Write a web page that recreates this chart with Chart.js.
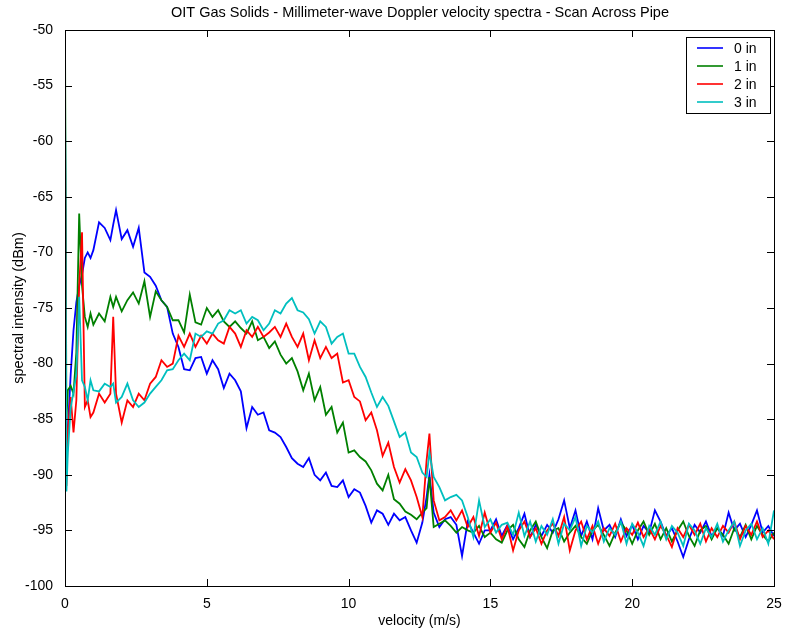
<!DOCTYPE html>
<html>
<head>
<meta charset="utf-8">
<script src="https://cdn.jsdelivr.net/npm/chart.js@4.4.1/dist/chart.umd.min.js"></script>
<style>
  body { margin: 0; background: #fff; }
  #wrap { width: 786px; height: 634px; }
</style>
</head>
<body>
<div id="wrap"><canvas id="c" width="786" height="634"></canvas></div>
<script>
const title = 'OIT Gas Solids - Millimeter-wave Doppler velocity spectra - Scan Across Pipe';
const xLabel = 'velocity (m/s)';
const yLabel = 'spectral intensity (dBm)';
const xTicks = [0, 5, 10, 15, 20, 25];
const yTicks = [-100, -95, -90, -85, -80, -75, -70, -65, -60, -55, -50];
const labels = ['0 in', '1 in', '2 in', '3 in'];
const colors = ['#0000ff', '#008000', '#ff0000', '#00bfbf'];

const velocity = [
  0, 0.05, 0.1, 0.2, 0.3, 0.4, 0.5, 0.6, 0.7, 0.8, 0.9, 1.0,
  1.2, 1.4, 1.6, 1.7, 1.8,
  2.0, 2.2, 2.4, 2.6, 2.8, 3.0, 3.2, 3.4, 3.6, 3.8,
  4.0, 4.2, 4.4, 4.6, 4.8, 5.0, 5.2, 5.4, 5.6, 5.8,
  6.0, 6.2, 6.4, 6.6, 6.8, 7.0, 7.2, 7.4, 7.6, 7.8,
  8.0, 8.2, 8.4, 8.6, 8.8, 9.0, 9.2, 9.4, 9.6, 9.8,
  10.0, 10.2, 10.4, 10.6, 10.8, 11.0, 11.2, 11.4, 11.6, 11.8,
  12.0, 12.2, 12.4, 12.6, 12.75, 12.85,
  13.0, 13.2, 13.4, 13.6, 13.8, 14.0, 14.2, 14.4, 14.6, 14.8,
  15.0, 15.2, 15.4, 15.6, 15.8, 16.0, 16.2, 16.4, 16.6, 16.8,
  17.0, 17.2, 17.4, 17.6, 17.8, 18.0, 18.2, 18.4, 18.6, 18.8,
  19.0, 19.2, 19.4, 19.6, 19.8, 20.0, 20.2, 20.4, 20.6, 20.8,
  21.0, 21.2, 21.4, 21.6, 21.8, 22.0, 22.2, 22.4, 22.6, 22.8,
  23.0, 23.2, 23.4, 23.6, 23.8, 24.0, 24.2, 24.4, 24.6, 24.8,
  25.0
];

const in0 = [
  -56, -90, -86, -81, -77, -74.5, -73, -72, -70.5, -70, -70.5, -69.8,
  -67.3, -67.8, -68.9, -67.5, -66.2,
  -68.8, -68, -69.5, -67.8, -71.8, -72.2, -73, -74.3, -74.9, -77.3,
  -78.5, -80.5, -80.6, -79.5, -79.4, -80.9, -79.7, -80.5, -82.2, -80.9,
  -81.5, -82.5, -85.8, -83.9, -84.6, -84.4, -86, -86.2, -86.6, -87.5,
  -88.5, -89, -89.3, -88.5, -90, -90.5, -89.8, -91, -91.1, -90.5,
  -92, -91.3, -91.6, -92.8, -94.3, -93.2, -93.5, -94.5, -93.5, -94.1,
  -93.8, -95, -96.1, -94.3, -92, -90,
  -93.4, -94.7, -94, -93.8, -94.5, -97.3, -94.2, -95.2, -96.2, -95,
  -95, -94, -95.5, -94.5, -95.8, -94.8, -93.5, -95.6, -94.5, -95.5,
  -94.5, -95.2, -94, -92.3, -94.8, -93.2, -95.5, -94.2, -95.8, -93,
  -95, -94.5, -95.6, -94, -95.5, -94.5, -95.8, -94.6, -95.2, -93.2,
  -94.2, -95.5, -94.8, -96, -97.4, -95.8, -94.5, -95.2, -94.2, -95.5,
  -94.8, -95.5, -93.4, -95, -94.4, -95.6, -94.5, -93.2, -95.2, -94.6,
  -95.5
];

const in1 = [
  -50, -85, -82.4, -82, -82.7, -79, -66.5, -73, -75.8, -76.7, -75.5, -76.5,
  -75.5, -76.2, -74, -74.9, -74,
  -75.3, -74.3, -73.6, -74.6, -72.6, -75.8, -73.5, -74.3, -74.9, -76.1,
  -76.1, -77.2, -73.8, -76.3, -76.5, -75, -75.8, -75.2, -76.2, -76.7,
  -76.2, -76.8, -77.3, -76.2, -77.9, -77.6, -78.6, -78, -79.2, -80,
  -79.5, -80.7, -82.4, -80.9, -83.3, -82.1, -84.6, -83.9, -86.2, -85.3,
  -88, -87.8, -88.4, -88.8, -89.6, -90.8, -91.4, -90, -92.2, -92.6,
  -93.3, -93.6, -94, -93.4, -93, -90.2,
  -94.7, -94.4, -94.1, -94.6, -95.2, -94.7, -95, -95.2, -94.6, -95.6,
  -95.2, -95.8, -96.1, -95, -94.5, -95.8, -96.5, -95, -94.2, -95.6,
  -96.6, -95, -94.8, -96, -95.2, -94.6, -95.6, -96.2, -95, -94.5,
  -95.4, -96.4, -95.2, -94.3, -95, -96.2, -95, -94.2, -95.4, -94.4,
  -95.8, -94.8, -96, -95, -94.2, -95.5, -96.4, -95, -94.6, -95.8,
  -94.8, -95.4, -96.2, -94.8, -95.6, -94.5, -95.8, -94.6, -95.4, -96,
  -95.2
];

const in2 = [
  -60, -91, -86, -83, -86.2, -83.3, -73, -68.2, -83.9, -83.3, -84.8, -84.4,
  -82.7, -83.5, -82.7, -75.8, -82.7,
  -85.3, -83.3, -83.9, -82.7, -83.3, -81.8, -81.2, -79.7, -80.3, -80,
  -77.5, -78.5, -77.3, -78.5, -77.5, -78.2, -77.3, -77.9, -78.2, -76.7,
  -77.3, -78.5, -77, -77.6, -76.7, -77.6, -77.2, -76.7, -77.6, -76.4,
  -77.6, -78.5, -77.3, -79.7, -77.9, -79.5, -78.5, -79.5, -79.1, -81.7,
  -81.5, -83, -83.4, -85.1, -84.4, -86, -88.3, -87.1, -89.3, -90.7,
  -89.5, -90.5, -92, -93.8, -88.7, -86.3,
  -92.3, -94.1, -93.8, -93.2, -94.1, -93.2, -94.7, -93.8, -95.5, -93.4,
  -95.2, -94.3, -95.8, -94.6, -96.8, -95, -94.2, -95.6, -94.8, -96.2,
  -95, -94.4, -95.5, -93.8, -96.8, -95, -94.2, -95.8, -94.6, -96.2,
  -94.8, -95.5, -94.4, -96, -94.8, -95.4, -94.3, -95.6, -94.8, -95.8,
  -94.6, -95.4, -96.5, -94.8, -95.6, -94.5, -95.4, -94.4, -96, -94.8,
  -95.6, -94.6, -95.2, -94.2, -95.8, -94.6, -95.4, -94.2, -95.6, -95,
  -95.8
];

const in3 = [
  -54, -91.5, -88, -84, -82.5, -81, -74, -81.5, -82.1, -83.3, -81.5, -82.4,
  -82.5, -81.8, -82.1, -81.8, -83.5,
  -83, -81.8, -83.3, -83.9, -83.5, -82.7, -82.1, -81.5, -80.6, -80.5,
  -79.7, -79.1, -79.7, -77.3, -77.6, -77.1, -77.3, -76.4, -76.1, -75.2,
  -75.5, -75.2, -76.4, -75.8, -76.1, -77, -76.4, -75.2, -75.5, -74.6,
  -74.1, -75.2, -75.4, -76, -77.3, -76.2, -76.7, -78.2, -77.6, -77.3,
  -79.1, -79.1, -80.3, -81.2, -82.6, -83.9, -83, -83.8, -85.2, -86.6,
  -86.2, -88, -88.4, -89.8, -90.2, -88,
  -90.2, -91.1, -92.3, -92, -91.8, -92.3, -93.8, -95.6, -92.3, -94.7,
  -94, -95.2, -94.5, -94.3, -95.4, -93.4, -95.5, -94.2, -96, -94.6,
  -95.4, -94, -96.2, -94.4, -95, -93.8, -96.4, -94.6, -95.2, -94.2,
  -96, -94.8, -95.4, -94.2, -96.2, -94.4, -95.2, -96.4, -94.6, -95.4,
  -94.2, -95.8, -94.6, -95.2, -96.4, -94.4, -95, -96.2, -94.8, -95.6,
  -94.4, -96, -95, -94.2, -96.4, -95, -94.4, -95.8, -94.8, -96.2,
  -93.2
];

const series = [in0, in1, in2, in3];
const font = '"Liberation Sans", Arial, sans-serif';

// MATLAB-ish box, inward ticks, title and legend
const frame = {
  id: 'frame',
  afterDraw(chart) {
    const { ctx, chartArea: a, scales: { x, y } } = chart;
    ctx.save();
    ctx.strokeStyle = '#000';
    ctx.lineWidth = 1;
    ctx.strokeRect(a.left + 0.5, a.top + 0.5, a.right - a.left, a.bottom - a.top);
    ctx.beginPath();
    xTicks.forEach(v => {
      const px = Math.round(x.getPixelForValue(v)) + 0.5;
      ctx.moveTo(px, a.bottom); ctx.lineTo(px, a.bottom - 7);
      ctx.moveTo(px, a.top); ctx.lineTo(px, a.top + 7);
    });
    yTicks.forEach(v => {
      const py = Math.round(y.getPixelForValue(v)) + 0.5;
      ctx.moveTo(a.left, py); ctx.lineTo(a.left + 7, py);
      ctx.moveTo(a.right, py); ctx.lineTo(a.right - 7, py);
    });
    ctx.stroke();

    ctx.fillStyle = '#000';
    ctx.font = '14.5px ' + font;
    ctx.textAlign = 'center';
    ctx.textBaseline = 'middle';
    ctx.fillText(title, (a.left + a.right) / 2 + 0.5, 13);

    // legend
    const lx = 686, ly = 37, lw = 84, lh = 76;
    ctx.fillStyle = '#fff';
    ctx.fillRect(lx, ly, lw, lh);
    ctx.strokeRect(lx + 0.5, ly + 0.5, lw, lh);
    ctx.font = '14px ' + font;
    ctx.textAlign = 'left';
    labels.forEach((t, i) => {
      const ey = ly + 11 + i * 18;
      ctx.strokeStyle = colors[i];
      ctx.lineWidth = 1.6;
      ctx.beginPath(); ctx.moveTo(lx + 11, ey); ctx.lineTo(lx + 37, ey); ctx.stroke();
      ctx.fillStyle = '#000';
      ctx.fillText(t, lx + 48, ey + 1);
    });
    ctx.restore();
  }
};

new Chart(document.getElementById('c'), {
  type: 'line',
  data: {
    datasets: series.map((s, i) => ({
      label: labels[i],
      data: velocity.map((v, j) => ({ x: v, y: s[j] })),
      borderColor: colors[i],
      borderWidth: 1.8,
      pointRadius: 0,
      tension: 0,
      order: 4 - i
    }))
  },
  options: {
    responsive: false,
    animation: false,
    layout: { padding: { top: 30, right: 12, left: 0, bottom: 0 } },
    plugins: { legend: { display: false }, tooltip: { enabled: false } },
    scales: {
      x: {
        type: 'linear', min: 0, max: 25,
        afterFit: s => { s.height = 48; },
        afterBuildTicks: s => { s.ticks = xTicks.map(v => ({ value: v })); },
        grid: { display: false }, border: { display: false },
        ticks: { color: '#000', font: { family: font, size: 14 }, padding: 2, maxRotation: 0 },
        title: { display: true, text: xLabel, color: '#000', font: { family: font, size: 14 }, padding: { top: 3 } }
      },
      y: {
        min: -100, max: -50,
        afterFit: s => { s.width = 65; },
        afterBuildTicks: s => { s.ticks = yTicks.map(v => ({ value: v })); },
        grid: { display: false }, border: { display: false },
        ticks: { color: '#000', font: { family: font, size: 14 }, padding: 4 },
        title: { display: true, text: yLabel, color: '#000', font: { family: font, size: 14.5 }, padding: { bottom: 0, top: 10 } }
      }
    }
  },
  plugins: [frame]
});
</script>
</body>
</html>
